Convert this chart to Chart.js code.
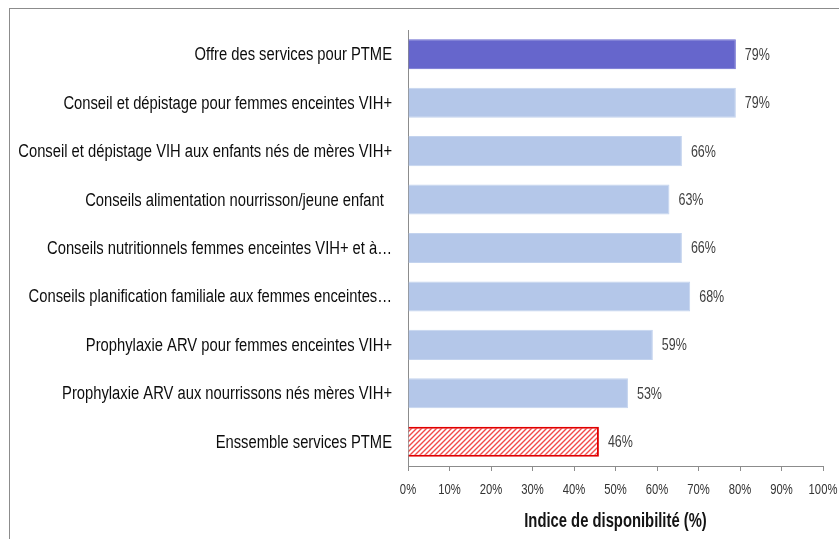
<!DOCTYPE html>
<html>
<head>
<meta charset="utf-8">
<script src="https://cdn.jsdelivr.net/npm/chart.js@4/dist/chart.umd.min.js"></script>
<style>
  body { margin: 0; background: #fff; }
</style>
</head>
<body>
<canvas id="myChart" width="839" height="539"></canvas>
<script>
const services = [
  'Offre des services pour PTME',
  'Conseil et dépistage pour femmes enceintes VIH+',
  'Conseil et dépistage VIH aux enfants nés de mères VIH+',
  'Conseils alimentation nourrisson/jeune enfant  ',
  'Conseils nutritionnels femmes enceintes VIH+ et à…',
  'Conseils planification familiale aux femmes enceintes…',
  'Prophylaxie ARV pour femmes enceintes VIH+',
  'Prophylaxie ARV aux nourrissons nés mères VIH+',
  'Enssemble services PTME'
];
const disponibilite = [79, 79, 66, 63, 66, 68, 59, 53, 46];
const xTicks = [0, 10, 20, 30, 40, 50, 60, 70, 80, 90, 100];
const xTitle = 'Indice de disponibilité (%)';

// no Arial Narrow here, so squeeze Liberation Sans horizontally
function narrowText(c, text, x, y, align, size, weight, color, squeeze) {
  c.save();
  c.font = weight + ' ' + size + 'px "Liberation Sans", Arial, sans-serif';
  c.fillStyle = color;
  c.textAlign = align;
  c.textBaseline = 'middle';
  c.translate(x, y);
  c.scale(squeeze, 1);
  c.fillText(text, 0, 0);
  c.restore();
}

// red diagonal hatch for the overall bar
function hatch() {
  const c = document.createElement('canvas');
  c.width = 5; c.height = 5;
  const g = c.getContext('2d');
  g.fillStyle = '#fff';
  g.fillRect(0, 0, 5, 5);
  g.strokeStyle = '#f24a4a';
  g.lineWidth = 1.4;
  g.beginPath();
  g.moveTo(-1, 6); g.lineTo(6, -1);
  g.moveTo(-1, 1); g.lineTo(1, -1);
  g.moveTo(4, 6); g.lineTo(6, 4);
  g.stroke();
  return g.createPattern(c, 'repeat');
}

const ctx = document.getElementById('myChart').getContext('2d');

let fills = disponibilite.map((v, i) => i == 0 ? '#6666cc' : '#b4c7e9');
fills[fills.length - 1] = hatch();
let borders = disponibilite.map((v, i) => i == 0 ? '#6a6ad0' : '#c3d3ee');
borders[borders.length - 1] = '#e00000';
let borderW = disponibilite.map((v, i) => i == disponibilite.length - 1 ? 2 : 1);

// outer frame, axis labels, title and value labels
const extras = {
  id: 'extras',
  beforeDraw(chart) {
    const c = chart.ctx;
    c.save();
    c.strokeStyle = '#8c8c8c';
    c.lineWidth = 1;
    c.strokeRect(9.5, 8.5, 900, 600);
    c.restore();
  },
  afterDraw(chart) {
    const c = chart.ctx;
    const xs = chart.scales.x, ys = chart.scales.y;
    services.forEach((s, i) => {
      narrowText(c, s, ys.right - 16, ys.getPixelForTick(i) + 1, 'right', 18, 'normal', '#0d0d0d', 0.82);
    });
    xTicks.forEach(v => {
      narrowText(c, v + '%', xs.getPixelForValue(v), xs.top + 24, 'center', 15, 'normal', '#333', 0.75);
    });
    narrowText(c, xTitle, (xs.left + xs.right) / 2, xs.top + 55, 'center', 20, 'bold', '#141414', 0.74);
    const meta = chart.getDatasetMeta(0);
    meta.data.forEach((bar, i) => {
      narrowText(c, disponibilite[i] + '%', bar.x + 9, bar.y + 1, 'left', 16, 'normal', '#404040', 0.78);
    });
  }
};

new Chart(ctx, {
  type: 'bar',
  data: {
    labels: services,
    datasets: [{
      data: disponibilite,
      backgroundColor: fills,
      borderColor: borders,
      borderWidth: borderW,
      barPercentage: 0.62,
      categoryPercentage: 1
    }]
  },
  options: {
    indexAxis: 'y',
    responsive: false,
    animation: false,
    devicePixelRatio: 1,
    layout: { padding: { top: 30, right: 16, left: 0, bottom: 0 } },
    plugins: {
      legend: { display: false },
      tooltip: { enabled: false }
    },
    scales: {
      x: {
        min: 0,
        max: 100,
        afterBuildTicks(scale) { scale.ticks = xTicks.map(v => ({ value: v })); },
        afterFit(scale) { scale.height = 73; scale.paddingLeft = 0; scale.paddingRight = 0; },
        grid: { drawOnChartArea: false, drawTicks: true, tickLength: 5, color: '#8c8c8c' },
        border: { display: true, color: '#8c8c8c' },
        ticks: { display: false }
      },
      y: {
        afterFit(scale) { scale.width = 408; scale.paddingTop = 0; scale.paddingBottom = 0; },
        grid: { display: false, drawTicks: false },
        border: { display: true, color: '#8c8c8c' },
        ticks: { display: false, autoSkip: false }
      }
    }
  },
  plugins: [extras]
});
</script>
</body>
</html>
